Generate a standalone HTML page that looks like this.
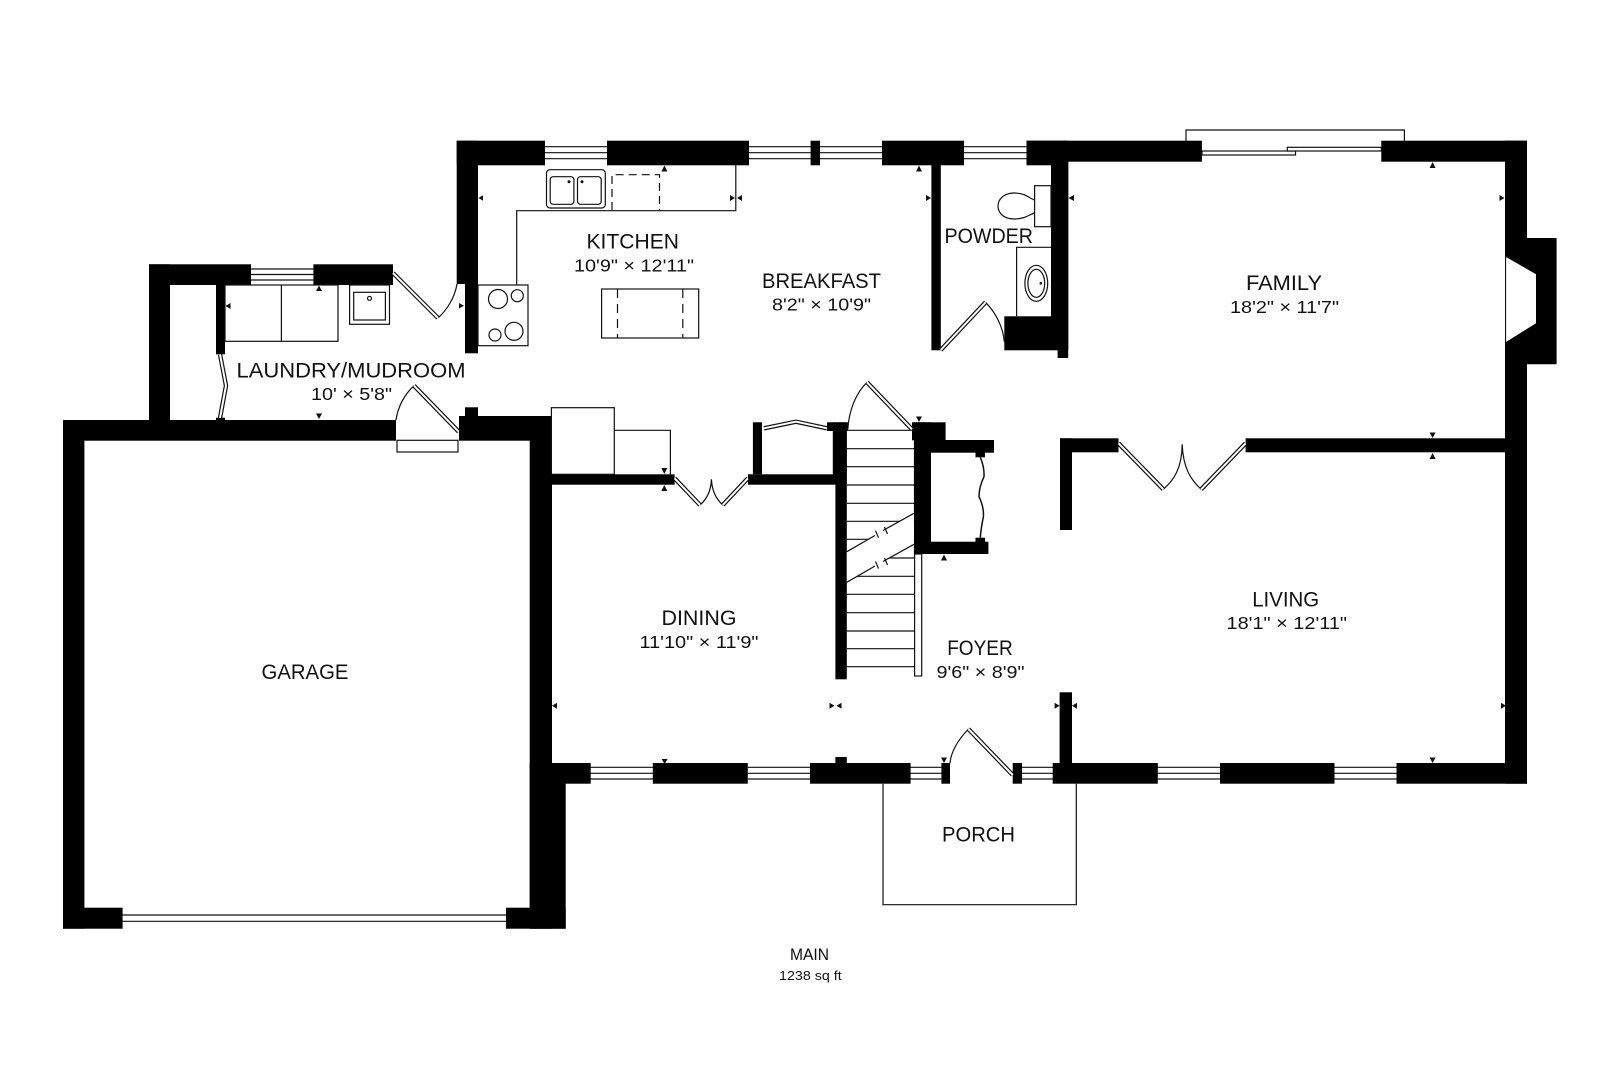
<!DOCTYPE html>
<html><head><meta charset="utf-8"><style>
html,body{margin:0;padding:0;background:#fff;width:1620px;height:1080px;overflow:hidden}
svg{display:block}
text{font-family:"Liberation Sans",sans-serif;fill:#111}
.w{fill:#000}
.l{fill:none;stroke:#111;stroke-width:1.2}
.f{fill:#fff;stroke:#111;stroke-width:1.2}
.lf{fill:none;stroke:#111;stroke-width:4.4}
.li{fill:none;stroke:#fff;stroke-width:2}
.n{font-size:21.5px}
.d{font-size:17.5px}
</style></head><body>
<svg width="1620" height="1080" viewBox="0 0 1620 1080" xmlns="http://www.w3.org/2000/svg">
<rect width="1620" height="1080" fill="#fff"/>

<!-- window lines -->
<g class="l">
<path d="M251 269H313.4M251 274.5H313.4M251 280H313.4"/>
<path d="M545 146.7H607M545 152.7H607M545 158.7H607"/>
<path d="M749 146.7H811M749 152.7H811M749 158.7H811"/>
<path d="M820 146.7H882M820 152.7H882M820 158.7H882"/>
<path d="M964 146.7H1027M964 152.7H1027M964 158.7H1027"/>
<path d="M590 767.3H653M590 773.3H653M590 779H653"/>
<path d="M748 767.3H810M748 773.3H810M748 779H810"/>
<path d="M910 767.3H941.4M910 773.3H941.4M910 779H941.4"/>
<path d="M1022 767.3H1053M1022 773.3H1053M1022 779H1053"/>
<path d="M1157 767.3H1220M1157 773.3H1220M1157 779H1220"/>
<path d="M1334 767.3H1397M1334 773.3H1397M1334 779H1397"/>
<path d="M122 915H506M122 921.3H506"/>
</g>

<!-- walls -->
<g class="w">
<!-- garage -->
<rect x="63" y="420" width="333" height="20.7"/>
<rect x="63" y="420" width="21.4" height="508.7"/>
<rect x="63" y="907.7" width="59.6" height="21"/>
<rect x="506" y="907.7" width="59.7" height="21"/>
<rect x="529.7" y="416" width="22.3" height="512.7"/>
<rect x="529.7" y="763" width="36" height="165.7"/>
<rect x="459" y="416" width="93" height="24.7"/>
<rect x="465" y="407.3" width="13" height="12"/>
<!-- laundry -->
<rect x="149" y="264.3" width="21" height="156"/>
<rect x="149" y="264.3" width="102" height="20.7"/>
<rect x="313.4" y="264.3" width="79.6" height="20.7"/>
<rect x="216" y="285" width="9" height="69.3"/>
<rect x="216" y="417.7" width="9" height="3"/>
<!-- kitchen left -->
<rect x="456.7" y="140.7" width="21.3" height="136"/>
<rect x="465" y="276" width="13" height="77.3"/>
<path d="M456.7 276H465V284H456.7Z" fill="#000"/>
<!-- top wall -->
<rect x="456.7" y="140.7" width="88.3" height="24.6"/>
<rect x="607" y="140.7" width="142" height="24.6"/>
<rect x="810.6" y="140.7" width="9.4" height="24.6"/>
<rect x="882" y="140.7" width="82" height="24.6"/>
<rect x="1026.5" y="140.7" width="41.5" height="24.6"/>
<rect x="1026.5" y="140.7" width="175.4" height="21"/>
<rect x="1381.3" y="140.7" width="145.7" height="21"/>
<!-- powder -->
<rect x="931.4" y="165" width="9.4" height="185.3"/>
<rect x="1051" y="161" width="17.3" height="189"/>
<rect x="1057.6" y="161" width="10.6" height="197"/>
<rect x="1004.3" y="316.3" width="53.3" height="34"/>
<!-- right wall & fireplace -->
<rect x="1505" y="140.7" width="22" height="643"/>
<path d="M1505.6 256.7L1527 238H1556.6V364.3H1527L1505.6 342.3Z"/>
<!-- family/living wall -->
<rect x="1245.6" y="438.3" width="262" height="14"/>
<rect x="1060" y="438.3" width="58.5" height="14"/>
<rect x="1060" y="438.3" width="12" height="91.7"/>
<!-- dining top -->
<rect x="552" y="474.3" width="122.6" height="10.4"/>
<rect x="747.9" y="474.3" width="87.5" height="10.4"/>
<rect x="752.9" y="422.3" width="9.1" height="52"/>
<rect x="827" y="422.3" width="20.9" height="8.7"/>
<rect x="832.8" y="422.3" width="14" height="62"/>
<rect x="835.4" y="431" width="11.4" height="248.3"/>
<!-- foyer closet -->
<rect x="912" y="422.3" width="33.6" height="18"/>
<rect x="913.9" y="422.3" width="17.1" height="131.7"/>
<rect x="931" y="440" width="63" height="12.7"/>
<rect x="914" y="541.7" width="74.4" height="12.3"/>
<rect x="975.5" y="452" width="9.5" height="5.3"/>
<rect x="975.5" y="537.7" width="9.5" height="4.5"/>
<!-- bottom wall -->
<rect x="552" y="763" width="38.7" height="20.7"/>
<rect x="652.8" y="763" width="95" height="20.7"/>
<rect x="810" y="763" width="100.6" height="20.7"/>
<rect x="835.4" y="757" width="11.4" height="7"/>
<rect x="941.4" y="763" width="8.6" height="20.7"/>
<rect x="1012.7" y="763" width="9.3" height="20.7"/>
<rect x="1052.7" y="763" width="105.1" height="20.7"/>
<rect x="1059.6" y="692.3" width="12.4" height="71"/>
<rect x="1220" y="763" width="114.5" height="20.7"/>
<rect x="1396.5" y="763" width="130.5" height="20.7"/>
</g>

<!-- fireplace opening -->
<path d="M1505.6 256.7L1536 274.3V323.3L1505.6 342.3Z" fill="#fff"/>
<path d="M1505.6 256.7V342.3" stroke="#111" stroke-width="1" fill="none"/>

<!-- furniture -->
<g class="l">
<rect x="225" y="285" width="113" height="56.3"/>
<path d="M281.4 285V341.3"/>
<rect x="349.6" y="285" width="39.9" height="39.3"/>
<rect x="353.7" y="292.3" width="31.7" height="27.7"/>
<circle cx="369.5" cy="298.3" r="2"/>
<rect x="478" y="285" width="50" height="60.7"/>
<ellipse cx="498" cy="299" rx="9.5" ry="9.5"/>
<circle cx="517.3" cy="295.7" r="6"/>
<circle cx="495" cy="335" r="6"/>
<circle cx="514" cy="331.3" r="9"/>
<rect x="546.5" y="169.7" width="58.8" height="38.3" rx="3.5"/>
<rect x="550.2" y="176.7" width="23.7" height="27.6" rx="3"/>
<rect x="577.5" y="176.7" width="23.7" height="27.6" rx="3"/>
<path d="M735.8 165V210.7H516.7V285"/>
<rect x="601.6" y="289" width="97.1" height="49"/>
<path d="M612 210V174.7H659.5V210" stroke-dasharray="8 5"/>
<path d="M617.5 289V338M682.8 289V338" stroke-dasharray="9 6"/>
<!-- toilet / vanity -->
<rect x="1034.6" y="185.7" width="16.4" height="41"/>
<path d="M1034.6 200C1030 199 1026 193 1014 193C1005 193 998 198.5 998 206C998 214 1005 219 1014 219C1026 219 1030 214 1034.6 213"/>
<path d="M1051 247.3H1016.6V316.3"/>
<ellipse cx="1036.3" cy="283.3" rx="11.4" ry="18"/>
<ellipse cx="1036.3" cy="283.3" rx="8.4" ry="14"/>
<!-- fridge -->
<rect x="551.4" y="407.7" width="62.9" height="66.6" class="f"/>
<path d="M614.3 430.3H670.4V474.3"/>
<!-- threshold -->
<rect x="397" y="440.3" width="61" height="11.7"/>
<!-- porch -->
<path d="M883 783.7V904.7H1076.3V783.7"/>
<!-- sliding door frame -->
<path d="M1186 141V130H1404.4V141"/>
<rect x="1202" y="151" width="93.5" height="4" class="f"/>
<rect x="1287.3" y="147.3" width="94" height="3.7" class="f"/>
<!-- door arcs -->
<path d="M396 420C398 406 405 394 414 385.7"/>
<path d="M457 284C455 297 447 310 438 318"/>
<path d="M985.6 302.3C996 313 1003 327 1004.3 341.7"/>
<path d="M1163.3 489.3C1174 480 1182 468 1182.2 444.3C1183 468 1191 480 1201.2 489.3"/>
<path d="M700 505C707 499 711 491 711.4 479.3C712 491 716 499 722.8 505"/>
<path d="M867 382.3C856 393 849 410 847.8 429.3"/>
<path d="M968.4 729C958 740 951 751 950 763.3"/>
<path d="M980.3 457.3Q984.500 467 984 476.7Q979 487 979 496.700Q984 507 983.4 516.7Q981 528 980.3 537.7" stroke-width="1.5"/>
<!-- stairs -->
<path d="M847 430.3H914M847 448.7H914M847 466.7H914M847 485H914M847 503.3H914M847 521.3H914M847 539.3H914M847 558H914M847 576.3H914M847 594.3H914M847 612.7H914M847 631H914M847 648.7H914M847 666.7H914"/>
</g>
<path d="M846.8 551.7L913.9 513.3V544.3L846.8 582.3Z" fill="#fff"/>
<g class="l" stroke-width="1.3">
<path d="M846.8 551.7L875 535.5M883 530.5L913.9 513.3"/>
<path d="M875.5 530.7L878.5 537.7M884.5 527L887.5 534"/>
<path d="M846.8 582.3L875 566M883 561.5L913.9 544.3"/>
<path d="M875.5 561.5L878.5 568.5M884.5 558L887.5 565"/>
<rect x="914.6" y="554" width="7.1" height="122" class="f"/>
</g>
<circle cx="569" cy="181.7" r="1.5" fill="#111"/>
<circle cx="582" cy="181.7" r="1.5" fill="#111"/>
<circle cx="1040.8" cy="283.3" r="1.3" fill="#111"/>

<!-- door leaves (double lines) -->
<g>
<path class="lf" d="M220 354.3L226 385.7L220 418M393 273L438 318M414 385.7L458.7 431.7M940.8 350L985.6 302.3M1118.5 443.3L1163.3 489.3M1245.6 443.3L1201.2 489.3M674.6 478.3L700 505M747.9 478.3L722.8 505M764 428.3L796 421.7L827 428.3M912 429.3L867 382.3M968.4 729L1012.7 775"/>
<path class="li" d="M220 354.3L226 385.7L220 418M393 273L438 318M414 385.7L458.7 431.7M940.8 350L985.6 302.3M1118.5 443.3L1163.3 489.3M1245.6 443.3L1201.2 489.3M674.6 478.3L700 505M747.9 478.3L722.8 505M764 428.3L796 421.7L827 428.3M912 429.3L867 382.3M968.4 729L1012.7 775"/>
</g>

<!-- arrowheads -->
<g fill="#111">
<path d="M478.5 198L483 195.3V200.7Z"/>
<path d="M464 305.7L459 303V308.5Z"/>
<path d="M225.5 306L230.5 303V309Z"/>
<path d="M319 285.5L322 291H316Z"/>
<path d="M319 419L322 413.5H316Z"/>
<path d="M664.4 165.5L667.4 171.5H661.4Z"/>
<path d="M735 198L730 195V201Z"/>
<path d="M737 198L742 195V201Z"/>
<path d="M919 165.5L922 171.5H916Z"/>
<path d="M931 198L926 195V201Z"/>
<path d="M1068.5 198L1074 195V201Z"/>
<path d="M1432.6 162L1435.6 168H1429.6Z"/>
<path d="M1504.5 198L1499.5 195V201Z"/>
<path d="M1432.6 438L1435.6 432.5H1429.6Z"/>
<path d="M1432.6 453L1435.6 459H1429.6Z"/>
<path d="M664.3 474L667.3 468H661.3Z"/>
<path d="M664.3 485L667.3 491H661.3Z"/>
<path d="M919 422L922 416.5H916Z"/>
<path d="M944 554.5L947 560.5H941Z"/>
<path d="M552 705.7L557 702.7V708.7Z"/>
<path d="M834.5 705.7L829.5 702.7V708.7Z"/>
<path d="M836.5 705.7L841.500 702.7V708.7Z"/>
<path d="M664.6 764L667.6 759H661.6Z"/>
<path d="M944 763L947 757.5H941Z"/>
<path d="M1059.6 705.7L1054.6 702.7V708.7Z"/>
<path d="M1072 705.7L1077 702.7V708.7Z"/>
<path d="M1432.6 763L1435.6 757.5H1429.6Z"/>
<path d="M1506 705.7L1501 702.7V708.7Z"/>
</g>

<!-- labels -->
<text class="n" x="236.500" y="377.500" textLength="229" lengthAdjust="spacingAndGlyphs">LAUNDRY/MUDROOM</text>
<text class="d" x="311" y="400" textLength="81" lengthAdjust="spacingAndGlyphs">10' × 5'8"</text>
<text class="n" x="586.500" y="248.500" textLength="92.500" lengthAdjust="spacingAndGlyphs">KITCHEN</text>
<text class="d" x="574" y="271.500" textLength="120" lengthAdjust="spacingAndGlyphs">10'9" × 12'11"</text>
<text class="n" x="762" y="288.200" textLength="119" lengthAdjust="spacingAndGlyphs">BREAKFAST</text>
<text class="d" x="772" y="310.500" textLength="99" lengthAdjust="spacingAndGlyphs">8'2" × 10'9"</text>
<text class="n" x="944.500" y="243.200" textLength="88.500" lengthAdjust="spacingAndGlyphs">POWDER</text>
<text class="n" x="1246" y="290.200" textLength="76" lengthAdjust="spacingAndGlyphs">FAMILY</text>
<text class="d" x="1230" y="313" textLength="109" lengthAdjust="spacingAndGlyphs">18'2" × 11'7"</text>
<text class="n" x="1252.200" y="606.500" textLength="67" lengthAdjust="spacingAndGlyphs">LIVING</text>
<text class="d" x="1226.500" y="628.800" textLength="120.500" lengthAdjust="spacingAndGlyphs">18'1" × 12'11"</text>
<text class="n" x="661.500" y="625.200" textLength="75" lengthAdjust="spacingAndGlyphs">DINING</text>
<text class="d" x="639.500" y="648" textLength="119" lengthAdjust="spacingAndGlyphs">11'10" × 11'9"</text>
<text class="n" x="947.200" y="655" textLength="65.500" lengthAdjust="spacingAndGlyphs">FOYER</text>
<text class="d" x="936.500" y="678" textLength="88" lengthAdjust="spacingAndGlyphs">9'6" × 8'9"</text>
<text class="n" x="261.500" y="679.200" textLength="87" lengthAdjust="spacingAndGlyphs">GARAGE</text>
<text class="n" x="942" y="841.500" textLength="73" lengthAdjust="spacingAndGlyphs">PORCH</text>
<text x="790" y="960" font-size="16.5" textLength="39" lengthAdjust="spacingAndGlyphs">MAIN</text>
<text x="779" y="980" font-size="13" textLength="62.7" lengthAdjust="spacingAndGlyphs">1238 sq ft</text>
</svg>
</body></html>
